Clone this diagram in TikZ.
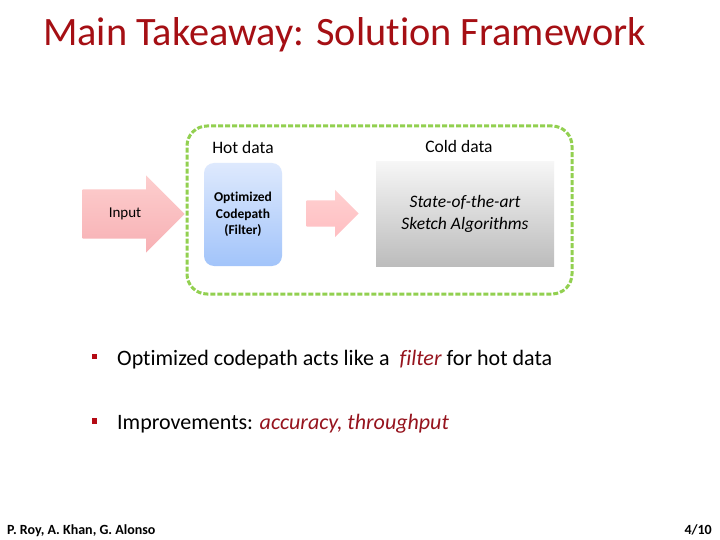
\documentclass[tikz,border=0pt]{standalone}
\usepackage{fontspec}
\setmainfont[Ligatures={NoCommon}]{Carlito}
\usetikzlibrary{shapes.arrows}

\definecolor{titlered}{RGB}{165,15,20}
\definecolor{emred}{RGB}{150,20,30}
\definecolor{bulletred}{RGB}{180,10,20}
\definecolor{framegreen}{RGB}{146,208,80}

\tikzset{
    every label node/.style={inner sep=0pt},
    block arrow/.style={single arrow, single arrow head indent=0pt, inner xsep=0pt,
        draw=none, anchor=tip, top color={rgb,255:red,253;green,206;blue,206},
        bottom color={rgb,255:red,247;green,176;blue,180}},
    frame box/.style={draw=framegreen, line width=3pt, dash pattern=on 5pt off 2pt,
        rounded corners=20pt},
    hot box/.style={rounded corners=10pt, top color={rgb,255:red,222;green,233;blue,253},
        bottom color={rgb,255:red,162;green,196;blue,250}, align=center,
        font=\bfseries\fontsize{13.5}{16.5}\selectfont},
    cold box/.style={top color={rgb,255:red,246;green,246;blue,246},
        bottom color={rgb,255:red,188;green,188;blue,188}, align=center,
        font=\itshape\fontsize{17.5}{22}\selectfont},
    bullet/.style={fill=bulletred, inner sep=0pt, minimum size=5.5pt}
}

\begin{document}
\begin{tikzpicture}[x=1pt, y=-1pt]
    \useasboundingbox [fill=white] (0,0) rectangle (720,540);

    % title
    \node [every label node/.try, anchor=base west, text=titlered,
        font=\fontsize{40.3}{48}\selectfont] (title) at (43,46) {Main Takeaway: Solution Framework};

    % framework
    \node [frame box, minimum width=385pt, minimum height=168pt] (frame) at (379.5,210) {};
    \node [hot box, minimum width=78pt, minimum height=103pt] (hot) at (243,214.5)
        {Optimized\\Codepath\\(Filter)};
    \node [cold box, minimum width=178pt, minimum height=104pt] (cold) at (465,214)
        {State-of-the-art\\Sketch Algorithms};

    % arrows
    \node [block arrow, minimum height=102pt, inner ysep=24.5pt,
        single arrow head extend=14pt] (input-arrow) at (185,214) {};
    \node [block arrow, minimum height=52pt, inner ysep=13pt,
        single arrow head extend=10.5pt, top color={rgb,255:red,255;green,208;blue,208},
        bottom color={rgb,255:red,255;green,190;blue,194}] (data-arrow) at (359,213.5) {};

    %   labels
    \node [font=\fontsize{15}{18}\selectfont] (input) at (125,214) {Input};
    \node [font=\fontsize{17.5}{21}\selectfont] (hot-label) at (243,147) {Hot data};
    \node [font=\fontsize{17.5}{21}\selectfont] (cold-label) at (459,146) {Cold data};

    % bullets
    \foreach \t/\yb [count=\i] in {{Optimized codepath acts like a\ \ \textcolor{emred}{\textit{filter}} for hot data}/365,
                                    {Improvements: \textcolor{emred}{\textit{accuracy, throughput}}}/429.5}
    {
    \node [bullet] (bullet-\i) at (94.5,\yb-8.5) {};
    \node [every label node/.try, anchor=base west, font=\fontsize{22}{26}\selectfont]
        (point-\i) at (117,\yb) {\t};
    }

    % footer
    \node [every label node/.try, anchor=base west, font=\bfseries\fontsize{14}{16}\selectfont]
        (authors) at (7,534) {P. Roy, A. Khan, G. Alonso};
    \node [every label node/.try, anchor=base east, font=\bfseries\fontsize{14}{16}\selectfont]
        (page) at (712,534) {4/10};
\end{tikzpicture}
\end{document}
